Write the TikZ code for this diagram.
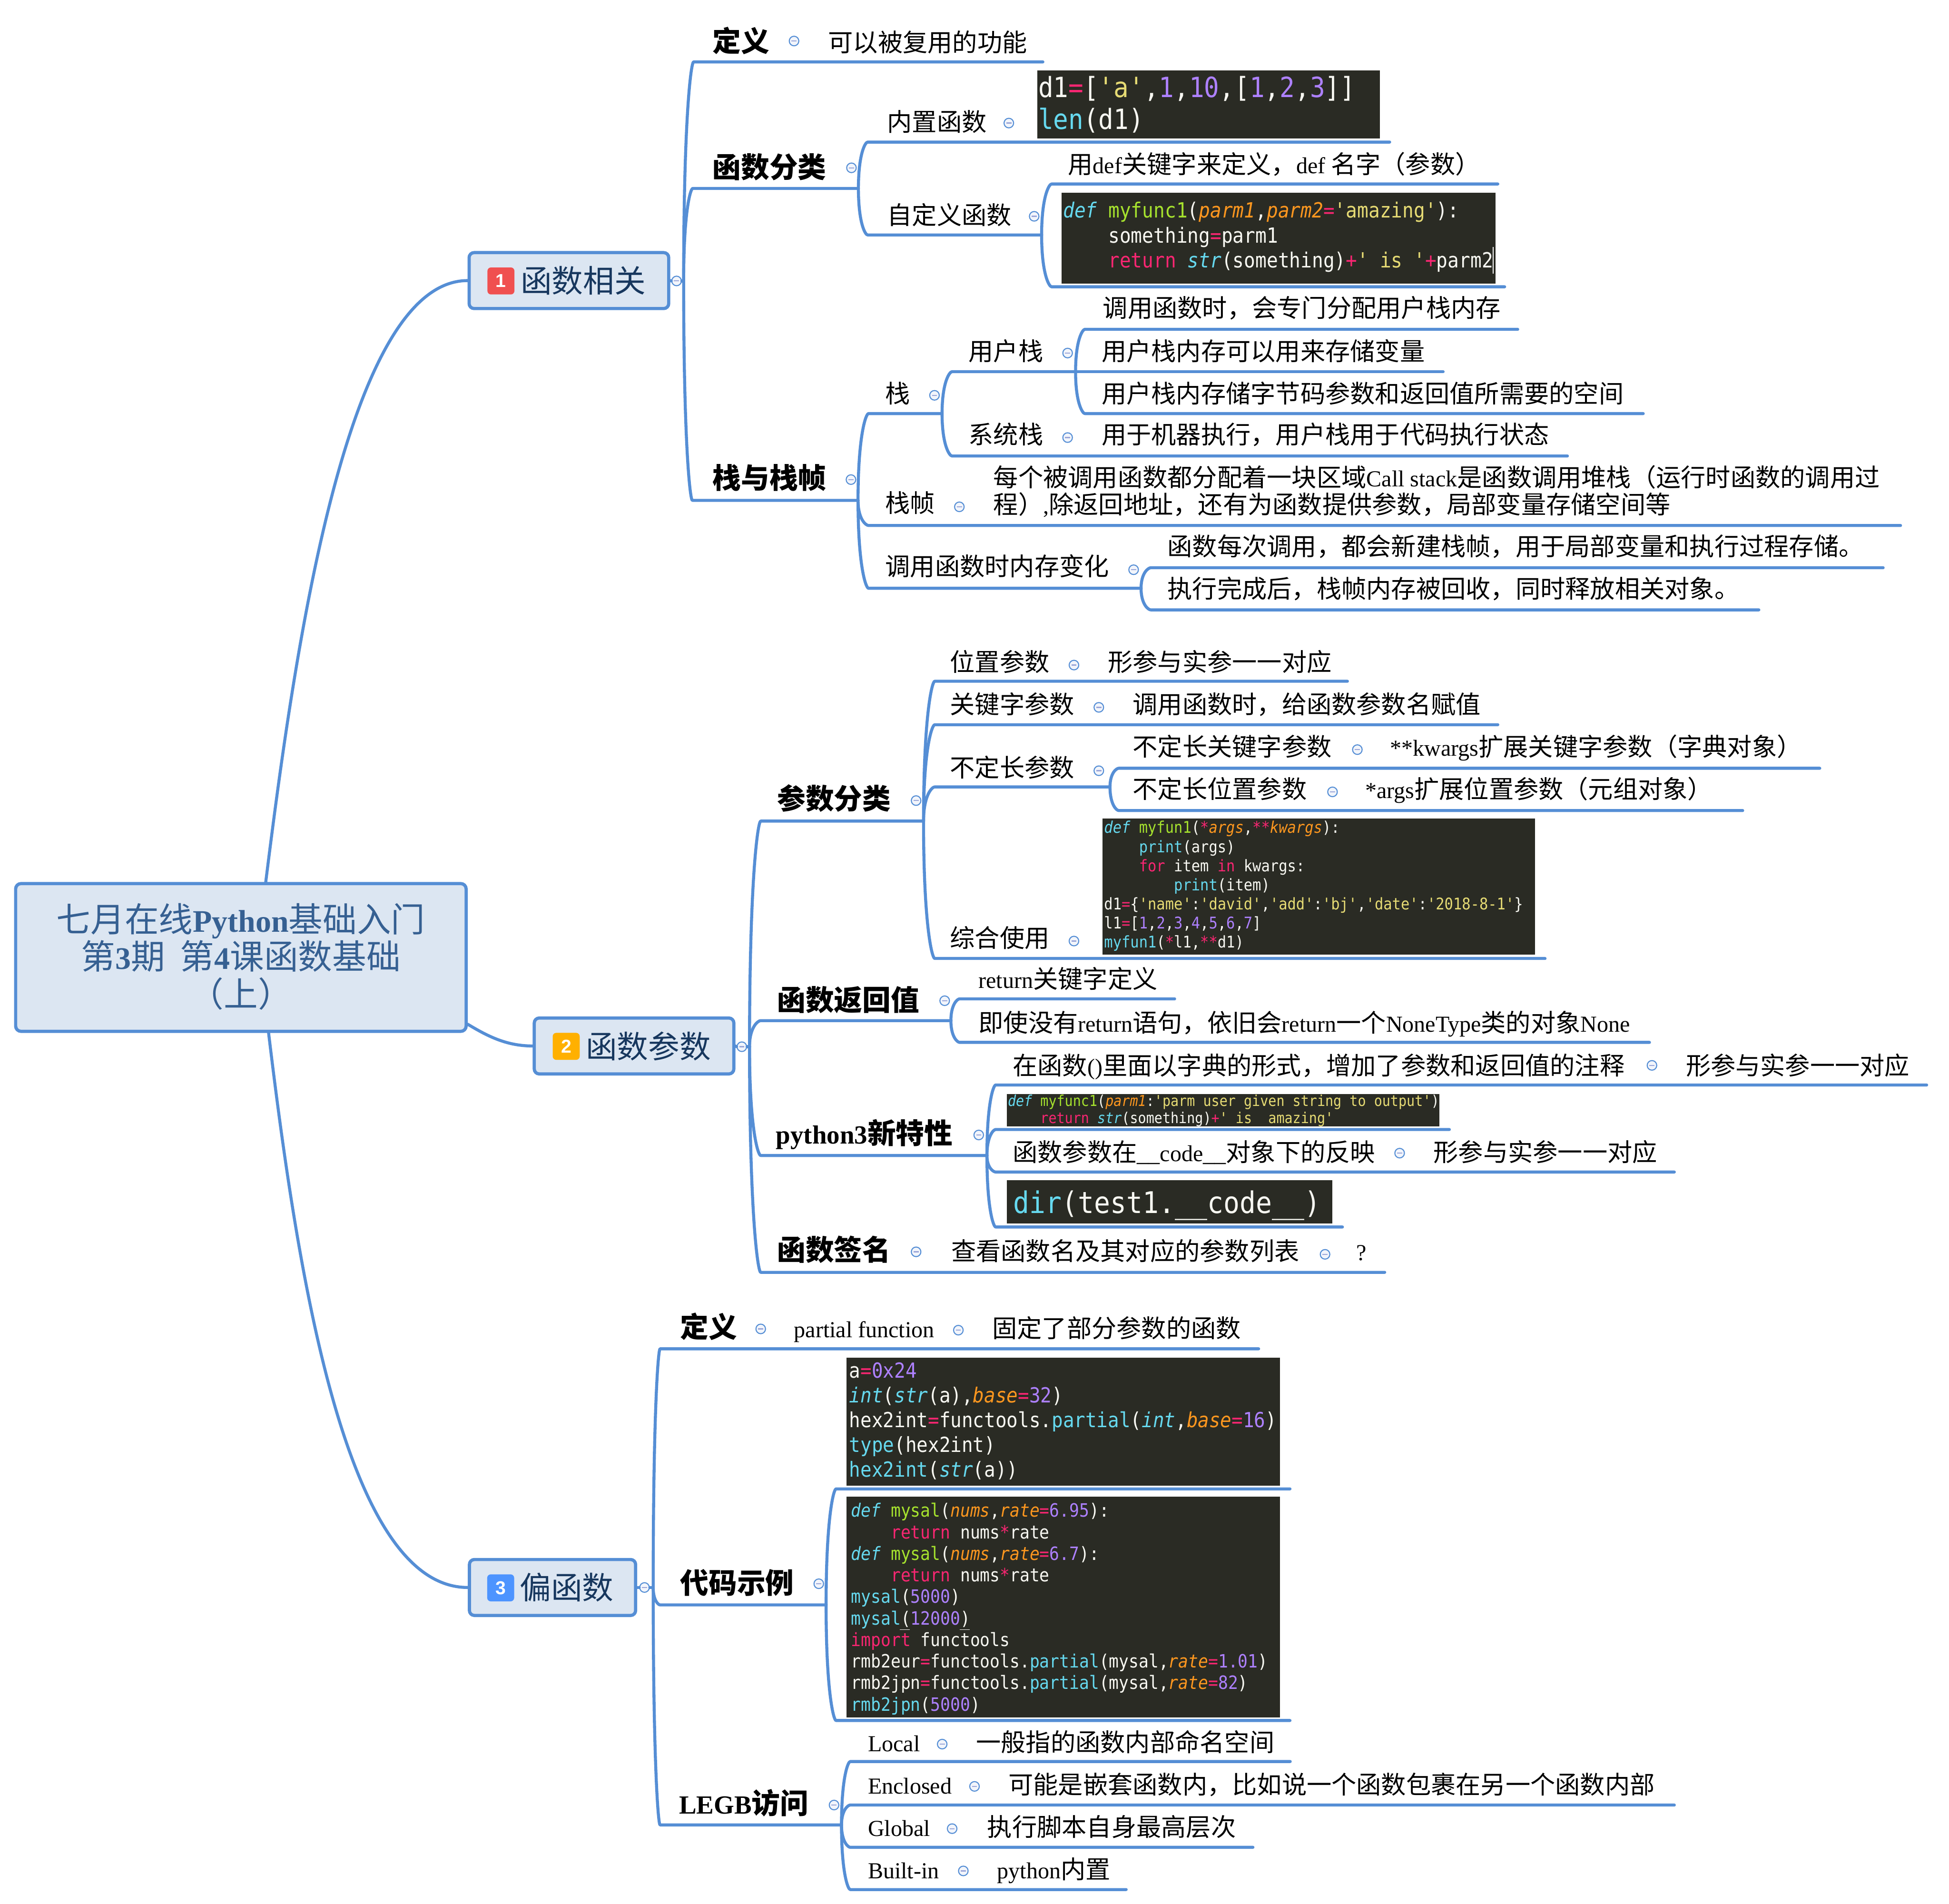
\documentclass[tikz,border=0pt]{standalone}
\usepackage{fontspec}
\usetikzlibrary{calc}
\setmainfont{Noto Sans CJK SC}
\newfontfamily\lat[Scale=0.92]{Liberation Serif}
\newfontfamily\markfont{Liberation Sans}
\newfontfamily\codefont[FakeStretch=0.9]{DejaVu Sans Mono}
\newcommand\LT[1]{{\lat #1}}
\definecolor{lineblue}{HTML}{558ED5}
\definecolor{boxfill}{HTML}{DCE6F2}
\definecolor{rootink}{HTML}{366092}
\definecolor{topicink}{HTML}{17375E}
\definecolor{codebg}{HTML}{2A2B24}
\definecolor{mkwhite}{HTML}{F8F8F2}
\definecolor{mkpink}{HTML}{F92672}
\definecolor{mkcyan}{HTML}{66D9EF}
\definecolor{mkgreen}{HTML}{A6E22E}
\definecolor{mkorange}{HTML}{FD971F}
\definecolor{mkpurple}{HTML}{AE81FF}
\definecolor{mkyellow}{HTML}{E6DB74}
\definecolor{markred}{HTML}{F05050}
\definecolor{markorange}{HTML}{FFB000}
\definecolor{markblue}{HTML}{4D94FF}
\definecolor{iconminus}{HTML}{9AA5D8}
\definecolor{iconfill}{HTML}{F2F5FB}
\newcommand\cPk[1]{\textcolor{mkpink}{#1}}
\newcommand\cCy[1]{\textcolor{mkcyan}{#1}}
\newcommand\cCi[1]{\textcolor{mkcyan}{\itshape #1}}
\newcommand\cGr[1]{\textcolor{mkgreen}{#1}}
\newcommand\cOi[1]{\textcolor{mkorange}{\itshape #1}}
\newcommand\cPu[1]{\textcolor{mkpurple}{#1}}
\newcommand\cYe[1]{\textcolor{mkyellow}{#1}}
\newcommand\fourind{\phantom{xxxx}}
\newcommand\cstrut{\rule{0pt}{16pt}}
\tikzset{
  conn/.style={draw=lineblue,line width=1.7pt,line cap=round,line join=round},
  boxnode/.style={draw=lineblue,fill=boxfill,line width=1.8pt,rounded corners=2.8pt,inner sep=0pt,align=center},
  topicbox/.style={boxnode,text=topicink,font=\fontsize{17.6pt}{21pt}\selectfont,minimum height=31.5pt},
  markerbox/.style={rounded corners=2pt,minimum size=15.2pt,inner sep=0pt,text=white,font=\markfont\bfseries\fontsize{10.5pt}{12pt}\selectfont},
  iconnode/.style={circle,draw=lineblue,fill=iconfill,line width=0.58pt,minimum size=5.4pt,inner sep=0pt},
  iconbar/.style={draw=iconminus,line width=0.6pt},
  leaf/.style={anchor=base west,inner sep=0pt,text=black,font=\fontsize{14pt}{15.4pt}\selectfont},
  head/.style={anchor=base west,inner sep=0pt,text=black,font=\bfseries\fontsize{16pt}{18pt}\selectfont},
  codetext/.style n args={2}{anchor=north west,inner sep=0pt,align=left,text=mkwhite,yshift=16pt,
     font=\codefont\fontsize{#1pt}{#2pt}\selectfont},
}
% branch: name, parent point, x start, x end, y
\newcommand\twig[5]{%
  \coordinate (#1-s) at (#3,#5);
  \coordinate (#1-e) at (#4,#5);
  \draw[conn] let \p1=(#2),\p2=(#1-s) in (\p1) .. controls (\x1,{\y1+0.75*(\y2-\y1)}) and ({\x1+0.75*(\x2-\x1)},\y2) .. (\p2) -- (#1-e);
}
\newcommand\icon[3]{%
  \node[iconnode] (#1) at (#2,#3) {};
  \draw[iconbar] ([xshift=-1.45pt]#1.center) -- ([xshift=1.45pt]#1.center);
}
\newcommand\lf[4]{\node[leaf] (#1) at (#2,#3) {#4};}
\newcommand\hd[4]{\node[head] (#1) at (#2,#3) {#4};}
\begin{document}
\begin{tikzpicture}[x=0.7pt,y=-0.7pt]
\path[use as bounding box,fill=white] (0,0) rectangle (1568,1531.4);

% root and main topics
\node[boxnode,text=rootink,minimum width=253.7pt,minimum height=83.2pt,rounded corners=3pt,
  font=\fontsize{19.2pt}{21pt}\selectfont] (root) at (193.8,770.2)
  {七月在线{\lat\bfseries Python}基础入门\\第{\lat\bfseries 3}期\ \ 第{\lat\bfseries 4}课函数基础\\（上）\rule[-2.8pt]{0pt}{0pt}};
\node[topicbox,minimum width=112.4pt] (t1) at (457.7,225.7) {\hspace*{16pt}函数相关};
\node[topicbox,minimum width=112.4pt] (t2) at (510.1,841.4) {\hspace*{16pt}函数参数};
\node[topicbox,minimum width=93.6pt] (t3) at (444.5,1277) {\hspace*{16pt}偏函数};
\node[markerbox,fill=markred] (m1) at (403,226) {1};
\node[markerbox,fill=markorange] (m2) at (455.5,841.7) {2};
\node[markerbox,fill=markblue] (m3) at (402.8,1277.3) {3};

\draw[conn] ([xshift=14pt]root.north) .. controls (237,523) and (279,226) .. (t1.west);
\draw[conn] ([xshift=15.6pt]root.south) .. controls (240,1030) and (279,1277) .. (t3.west);
\draw[conn] ([yshift=4.9pt]root.south east) .. controls (393,834) and (408,841.4) .. (t2.west);

\icon{i1}{544.3}{226}
\icon{i2}{596.8}{842}
\icon{i3}{518.5}{1277}
\coordinate (j1) at (550,226);
\coordinate (j2) at (603,842);
\coordinate (j3) at (525.5,1277);
\draw[conn] (t1.east) -- (i1.west);
\draw[conn] (i1.east) -- (j1);
\draw[conn] (t2.east) -- (i2.west);
\draw[conn] (i2.east) -- (j2);
\draw[conn] (t3.east) -- (i3.west);
\draw[conn] (i3.east) -- (j3);

% ---------- topic 1
\twig{a}{j1}{558}{839}{49.8}
\twig{b}{j1}{557.3}{690.6}{151.6}
\twig{c}{j1}{557}{690.3}{402.5}
\hd{at}{573}{41.5}{定义}
\icon{ai}{638.8}{33}
\lf{al}{666}{41.5}{可以被复用的功能}
\hd{bt}{573}{143}{函数分类}
\icon{bi}{685}{135}
\hd{ct}{573}{393}{栈与栈帧}
\icon{ci}{684.6}{385.8}

\twig{b1}{b-e}{698}{1118}{114.3}
\twig{b2}{b-e}{698}{838}{189}
\lf{b1t}{713.5}{105.5}{内置函数}
\icon{b1i}{811.6}{99}
\fill[codebg] (834.5,56.5) rectangle (1110,111.5);
\node[codetext={15.69}{17.85}] (code1) at (835,78)
 {\cstrut d1\cPk{=}[\cYe{'a'},\cPu{1},\cPu{10},[\cPu{1},\cPu{2},\cPu{3}]]\\
  \cCy{len}(d1)};
\lf{b2t}{713.5}{180.5}{自定义函数}
\icon{b2i}{832}{174}
\twig{b2a}{b2-e}{846}{1205}{148}
\twig{b2b}{b2-e}{846}{1210.5}{230.7}
\lf{b2at}{859}{139.5}{用\LT{def}关键字来定义，\LT{def} 名字（参数）}
\fill[codebg] (854,155) rectangle (1203,228);
\node[codetext={11.76}{14}] (code2) at (855,175)
 {\cstrut\cCi{def} \cGr{myfunc1}(\cOi{parm1},\cOi{parm2}\cPk{=}\cYe{'amazing'}):\\
  \fourind something\cPk{=}parm1\\
  \fourind\cPk{return} \cCi{str}(something)\cPk{+}\cYe{' is '}\cPk{+}parm2};
\coordinate (curA) at (1201.2,198.6);
\coordinate (curB) at (1201.2,220);
\draw[white,line width=0.4pt] (curA) -- (curB);

\twig{c1}{c-e}{698.7}{757.9}{332.7}
\twig{c2}{c-e}{698.7}{1529}{422.7}
\twig{c3}{c-e}{698.7}{918}{473.2}
\lf{c1t}{712}{324}{栈}
\icon{c1i}{751.8}{318}
\twig{ca}{c1-e}{765.9}{865.3}{299}
\twig{cb}{c1-e}{765.9}{1261}{366.8}
\lf{cat}{779}{290}{用户栈}
\icon{cai}{858.9}{284}
\lf{cbt}{779}{357}{系统栈}
\icon{cbi}{858.9}{352}
\lf{cbl}{886}{357}{用于机器执行，用户栈用于代码执行状态}
\twig{ca1}{ca-e}{872.8}{1221}{264.9}
\twig{ca2}{ca-e}{872.8}{1161}{299}
\twig{ca3}{ca-e}{872.8}{1322}{332.7}
\lf{ca1t}{887}{255}{调用函数时，会专门分配用户栈内存}
\lf{ca2t}{886}{290}{用户栈内存可以用来存储变量}
\lf{ca3t}{886}{324}{用户栈内存储字节码参数和返回值所需要的空间}
\lf{c2t}{712}{412}{栈帧}
\icon{c2i}{771.8}{407.7}
\node[anchor=north west,inner sep=0pt,align=left,text=black,yshift=16pt,
  font=\fontsize{14pt}{15.4pt}\selectfont] (c2l) at (799,391)
  {\cstrut 每个被调用函数都分配着一块区域\LT{Call stack}是函数调用堆栈（运行时函数的调用过\\程）\LT{,}除返回地址，还有为函数提供参数，局部变量存储空间等};
\lf{c3t}{712}{463}{调用函数时内存变化}
\icon{c3i}{912}{458.3}
\twig{c31}{c3-e}{925.8}{1515}{456.7}
\twig{c32}{c3-e}{925.8}{1415}{490.6}
\lf{c31t}{939}{447}{函数每次调用，都会新建栈帧，用于局部变量和执行过程存储。}
\lf{c32t}{939}{481}{执行完成后，栈帧内存被回收，同时释放相关对象。}

% ---------- topic 2
\twig{p}{j2}{612}{743}{660.5}
\twig{q}{j2}{612}{765}{821}
\twig{r}{j2}{612}{794}{929.5}
\twig{s}{j2}{612}{1114}{1023.5}
\hd{pt}{625}{651}{参数分类}
\icon{pi}{737}{644}
\hd{qt}{625}{813}{函数返回值}
\icon{qi}{760}{805}
\hd{rt}{624}{920}{\LT{python3}新特性}
\icon{ri}{787.4}{913}
\hd{st}{625}{1014}{函数签名}
\icon{si}{737}{1007}
\lf{sl}{765}{1014}{查看函数名及其对应的参数列表}
\icon{si2}{1066}{1009}
\lf{sl2}{1091}{1014}{\LT{?}}

\twig{p1}{p-e}{752}{1084}{548}
\twig{p2}{p-e}{752}{1205}{583}
\twig{p3}{p-e}{752}{893}{633}
\twig{p4}{p-e}{752}{1243}{771}
\lf{p1t}{764}{540}{位置参数}
\icon{p1i}{864}{535}
\lf{p1l}{891}{540}{形参与实参一一对应}
\lf{p2t}{764}{574}{关键字参数}
\icon{p2i}{884}{569}
\lf{p2l}{911}{574}{调用函数时，给函数参数名赋值}
\lf{p3t}{764}{625}{不定长参数}
\icon{p3i}{884}{620}
\twig{p31}{p3-e}{900}{1464}{618}
\twig{p32}{p3-e}{900}{1402}{652}
\lf{p31t}{911}{608}{不定长关键字参数}
\icon{p31i}{1092}{603}
\lf{p31l}{1118}{608}{\LT{**kwargs}扩展关键字参数（字典对象）}
\lf{p32t}{911}{642}{不定长位置参数}
\icon{p32i}{1072}{637}
\lf{p32l}{1098}{642}{\LT{*args}扩展位置参数（元组对象）}
\lf{p4t}{764}{762}{综合使用}
\icon{p4i}{864}{757}
\fill[codebg] (887,658.5) rectangle (1235,768);
\node[codetext={9.07}{10.75}] (code3) at (888,670)
 {\cstrut\cCi{def} \cGr{myfun1}(\cPk{*}\cOi{args},\cPk{**}\cOi{kwargs}):\\
  \fourind\cCy{print}(args)\\
  \fourind\cPk{for} item \cPk{in} kwargs:\\
  \fourind\fourind\cCy{print}(item)\\
  d1\cPk{=}\{\cYe{'name'}:\cYe{'david'},\cYe{'add'}:\cYe{'bj'},\cYe{'date'}:\cYe{'2018-8-1'}\}\\
  l1\cPk{=}[\cPu{1},\cPu{2},\cPu{3},\cPu{4},\cPu{5},\cPu{6},\cPu{7}]\\
  \cCy{myfun1}(\cPk{*}l1,\cPk{**}d1)};

\twig{q1}{q-e}{772}{945}{803.5}
\twig{q2}{q-e}{772}{1327}{838.5}
\lf{q1t}{787}{795}{\LT{return}关键字定义}
\lf{q2t}{787}{830}{即使没有\LT{return}语句，依旧会\LT{return}一个\LT{NoneType}类的对象\LT{None}}

\twig{r1}{r-e}{801}{1550}{872.8}
\twig{r2}{r-e}{801}{1166}{908.6}
\twig{r3}{r-e}{801}{1347}{942.8}
\twig{r4}{r-e}{801}{1080}{987}
\lf{r1t}{814.5}{864.7}{在函数\LT{()}里面以字典的形式，增加了参数和返回值的注释}
\icon{r1i}{1329}{857}
\lf{r1l}{1356}{864.7}{形参与实参一一对应}
\fill[codebg] (810,880) rectangle (1158,906);
\node[codetext={8.46}{9.73}] (code4) at (810.5,889.6)
 {\cstrut\cCi{def} \cGr{myfunc1}(\cOi{parm1}:\cYe{'parm user given string to output'})\\
  \fourind\cPk{return} \cCi{str}(something)\cPk{+}\cYe{' is \ amazing'}};
\lf{r3t}{814.5}{934.4}{函数参数在\LT{\_\_code\_\_}对象下的反映}
\icon{r3i}{1126}{927.6}
\lf{r3l}{1153}{934.4}{形参与实参一一对应}
\fill[codebg] (810,949.5) rectangle (1072,984.3);
\node[codetext={16.8}{20}] (code5) at (815,975.6)
 {\cstrut\cCy{dir}(test1.\_\_code\_\_)};

% ---------- topic 3
\twig{t}{j3}{531}{1012.6}{1085}
\twig{u}{j3}{531}{664.6}{1291}
\twig{v}{j3}{531}{677}{1468}
\hd{tt}{547}{1076}{定义}
\icon{ti}{612}{1069}
\lf{tl}{638.5}{1076}{\LT{partial function}}
\icon{ti2}{771}{1070}
\lf{tl2}{798}{1076}{固定了部分参数的函数}
\hd{ut}{547}{1282}{代码示例}
\icon{ui}{658.7}{1274}
\twig{u1}{u-e}{672.6}{1037.8}{1197.7}
\twig{u2}{u-e}{672.6}{1037.8}{1384}
\fill[codebg] (681,1092) rectangle (1029.6,1195);
\node[codetext={11.69}{13.93}] (code6) at (683,1108)
 {\cstrut a\cPk{=}\cPu{0x24}\\
  \cCi{int}(\cCi{str}(a),\cOi{base}\cPk{=}\cPu{32})\\
  hex2int\cPk{=}functools.\cCy{partial}(\cCi{int},\cOi{base}\cPk{=}\cPu{16})\\
  \cCy{type}(hex2int)\\
  \cCy{hex2int}(\cCi{str}(a))};
\fill[codebg] (681,1204) rectangle (1029.6,1381.6);
\node[codetext={10.31}{12.13}] (code7) at (684.5,1220)
 {\cstrut\cCi{def} \cGr{mysal}(\cOi{nums},\cOi{rate}\cPk{=}\cPu{6.95}):\\
  \fourind\cPk{return} nums\cPk{*}rate\\
  \cCi{def} \cGr{mysal}(\cOi{nums},\cOi{rate}\cPk{=}\cPu{6.7}):\\
  \fourind\cPk{return} nums\cPk{*}rate\\
  \cCy{mysal}(\cPu{5000})\\
  \cCy{mysal}(\cPu{12000})\\
  \cPk{import} functools\\
  rmb2eur\cPk{=}functools.\cCy{partial}(mysal,\cOi{rate}\cPk{=}\cPu{1.01})\\
  rmb2jpn\cPk{=}functools.\cCy{partial}(mysal,\cOi{rate}\cPk{=}\cPu{82})\\
  \cCy{rmb2jpn}(\cPu{5000})};
\coordinate (brA) at (724,1311);
\coordinate (brB) at (732,1311);
\coordinate (brC) at (772,1311);
\coordinate (brD) at (780,1311);
\draw[mkwhite,line width=0.3pt] (brA) -- (brB) (brC) -- (brD);
\hd{vt}{546}{1459}{\LT{LEGB}访问}
\icon{vi}{671}{1452}
\twig{v1}{v-e}{684}{1038}{1417}
\twig{v2}{v-e}{684}{1347}{1452}
\twig{v3}{v-e}{684}{1008}{1486}
\twig{v4}{v-e}{684}{906}{1520}
\lf{v1t}{698}{1409}{\LT{Local}}
\icon{v1i}{758}{1403}
\lf{v1l}{785}{1409}{一般指的函数内部命名空间}
\lf{v2t}{698}{1443}{\LT{Enclosed}}
\icon{v2i}{784}{1437}
\lf{v2l}{811}{1443}{可能是嵌套函数内，比如说一个函数包裹在另一个函数内部}
\lf{v3t}{698}{1477}{\LT{Global}}
\icon{v3i}{766}{1471}
\lf{v3l}{794}{1477}{执行脚本自身最高层次}
\lf{v4t}{698}{1511}{\LT{Built-in}}
\icon{v4i}{775}{1505}
\lf{v4l}{802}{1511}{\LT{python}内置}
\end{tikzpicture}
\end{document}
